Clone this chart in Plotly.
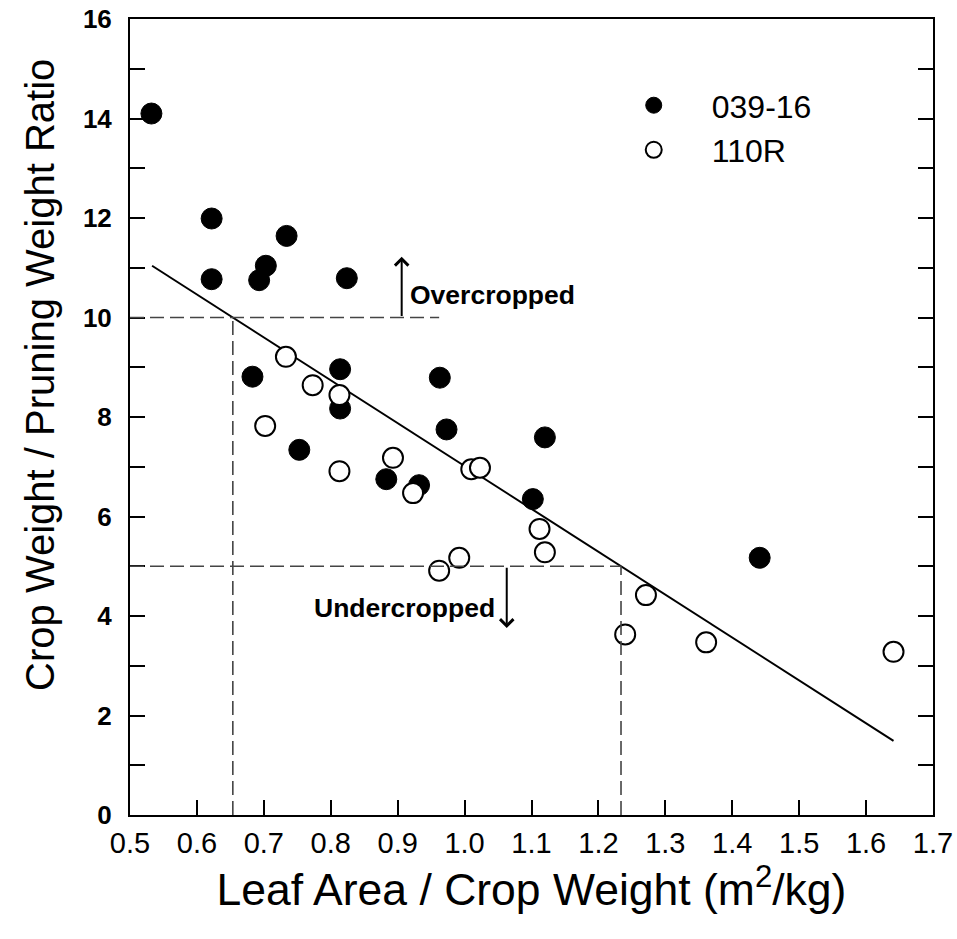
import plotly.graph_objects as go

# ---- data ----
x_039 = [0.532, 0.622, 0.622, 0.693, 0.703, 0.734, 0.824, 0.683, 0.814, 0.814,
         0.753, 0.963, 0.973, 0.883, 0.932, 1.102, 1.120, 1.441]
y_039 = [14.10, 11.99, 10.77, 10.75, 11.04, 11.64, 10.79, 8.81, 8.96, 8.17,
         7.34, 8.79, 7.75, 6.75, 6.63, 6.35, 7.59, 5.17]

x_110 = [0.733, 0.773, 0.813, 0.702, 0.813, 0.893, 0.923, 1.010, 1.023, 1.112,
         1.120, 0.962, 0.992, 1.240, 1.271, 1.361, 1.641]
y_110 = [9.21, 8.64, 8.44, 7.82, 6.91, 7.18, 6.47, 6.95, 6.98, 5.75,
         5.28, 4.91, 5.17, 3.63, 4.42, 3.47, 3.28]

# regression line (two end points)
fit_x = [0.533, 1.641]
fit_y = [11.04, 1.49]

over_thr = 10    # overcropped threshold
under_thr = 5    # undercropped threshold

x_ticks = [0.5, 0.6, 0.7, 0.8, 0.9, 1.0, 1.1, 1.2, 1.3, 1.4, 1.5, 1.6, 1.7]
x_ticktext = ["0.5", "0.6", "0.7", "0.8", "0.9", "1.0", "1.1", "1.2", "1.3", "1.4", "1.5", "1.6", "1.7"]
y_ticks = list(range(0, 17))
y_ticktext = [str(v) if v % 2 == 0 else "" for v in y_ticks]

# ---- derived from the fit line ----
slope = (fit_y[1] - fit_y[0]) / (fit_x[1] - fit_x[0])
def x_at(yv):
    return fit_x[0] + (yv - fit_y[0]) / slope

x_over = x_at(over_thr)
x_under = x_at(under_thr)

FONT = "Liberation Sans, Arial, sans-serif"

fig = go.Figure()
fig.add_trace(go.Scatter(x=fit_x, y=fit_y, mode="lines",
                         line=dict(color="black", width=2), showlegend=False, hoverinfo="skip"))
fig.add_trace(go.Scatter(x=x_039, y=y_039, mode="markers", name="039-16",
                         marker=dict(symbol="circle", size=21, color="black",
                                     line=dict(color="black", width=1))))
fig.add_trace(go.Scatter(x=x_110, y=y_110, mode="markers", name="110R",
                         marker=dict(symbol="circle", size=20, color="white",
                                     line=dict(color="black", width=2))))

dash = dict(color="#444", width=1.6, dash="14px,6px")
shapes = [
    dict(type="line", xref="x", yref="y", x0=0.5, x1=0.962, y0=over_thr, y1=over_thr, line=dash),
    dict(type="line", xref="x", yref="y", x0=x_over, x1=x_over, y0=0, y1=over_thr, line=dash),
    dict(type="line", xref="x", yref="y", x0=0.5, x1=x_under, y0=under_thr, y1=under_thr, line=dash),
    dict(type="line", xref="x", yref="y", x0=x_under, x1=x_under, y0=0, y1=under_thr, line=dash),
]

annotations = [
    dict(x=0.906, y=11.22, ax=0.906, ay=over_thr, xref="x", yref="y", axref="x", ayref="y",
         text="", showarrow=True, arrowhead=4, arrowsize=1.3, arrowwidth=2, arrowcolor="black"),
    dict(x=0.916, y=10.45, xref="x", yref="y", text="<b>Overcropped</b>", showarrow=False,
         xanchor="left", yanchor="middle", font=dict(family=FONT, size=26.5, color="black")),
    dict(x=1.063, y=3.76, ax=1.063, ay=under_thr, xref="x", yref="y", axref="x", ayref="y",
         text="", showarrow=True, arrowhead=4, arrowsize=1.3, arrowwidth=2, arrowcolor="black"),
    dict(x=0.910, y=4.16, xref="x", yref="y", text="<b>Undercropped</b>", showarrow=False,
         xanchor="center", yanchor="middle", font=dict(family=FONT, size=26.5, color="black")),
    # y-axis title (placed as in the reference, slightly above the plot centre)
    dict(x=-0.112, y=0.553, xref="paper", yref="paper", text="Crop Weight / Pruning Weight Ratio",
         textangle=-90, showarrow=False, xanchor="center", yanchor="middle",
         font=dict(family=FONT, size=40, color="black")),
]

fig.update_layout(
    width=957, height=939,
    margin=dict(l=130, r=24, t=19, b=124, autoexpand=False),
    paper_bgcolor="white", plot_bgcolor="white",
    font=dict(family=FONT, color="black"),
    shapes=shapes, annotations=annotations,
    legend=dict(x=0.580, y=0.926, xanchor="left", yanchor="top",
                font=dict(family=FONT, size=32, color="black"),
                bgcolor="rgba(0,0,0,0)", itemsizing="trace", itemwidth=106,
                tracegroupgap=0),
    xaxis=dict(range=[0.5, 1.7], tickvals=x_ticks, ticktext=x_ticktext,
               ticks="inside", ticklen=15, tickwidth=2, tickcolor="black",
               showline=True, linecolor="black", linewidth=2, mirror=True,
               showgrid=False, zeroline=False, automargin=False,
               ticklabeloverflow="allow",
               tickfont=dict(family=FONT, size=29), ticklabelstandoff=1,
               title=dict(text="Leaf Area / Crop Weight (m<sup>2</sup>/kg)",
                          font=dict(family=FONT, size=44.5), standoff=16)),
    yaxis=dict(range=[0, 16], tickvals=y_ticks, ticktext=y_ticktext,
               ticks="inside", ticklen=15, tickwidth=2, tickcolor="black",
               showline=True, linecolor="black", linewidth=2, mirror="ticks",
               showgrid=False, zeroline=False, automargin=False,
               ticklabeloverflow="allow",
               tickfont=dict(family=FONT, size=26, weight="bold"),
               ticklabelstandoff=11),
)

fig.write_html("out.html", config={"displayModeBar": False},
               post_script="document.body.style.margin='0px';")
